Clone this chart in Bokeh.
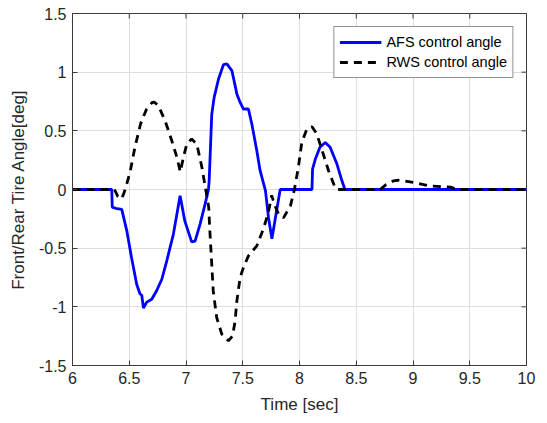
from bokeh.plotting import figure
from bokeh.models import Range1d, Legend, LegendItem, FixedTicker
from bokeh.embed import file_html
from bokeh.resources import INLINE

# ---- data ----
afs_t = [6.0, 6.346, 6.35, 6.38, 6.434, 6.478, 6.52, 6.566, 6.595, 6.61, 6.625, 6.654,
         6.698, 6.74, 6.787, 6.83, 6.889, 6.948, 6.99, 7.05, 7.08, 7.124, 7.168, 7.198,
         7.204, 7.227, 7.248, 7.286, 7.33, 7.36, 7.404, 7.433, 7.448, 7.477, 7.506, 7.55,
         7.58, 7.624, 7.653, 7.70, 7.727, 7.757, 7.8, 7.83, 8.11, 8.115, 8.14, 8.18,
         8.227, 8.27, 8.33, 8.374, 8.40, 10.0]
afs_y = [0, 0, -0.15, -0.16, -0.17, -0.35, -0.58, -0.81, -0.89, -0.90, -1.01, -0.96,
         -0.935, -0.865, -0.765, -0.61, -0.38, -0.054, -0.27, -0.446, -0.44, -0.295, -0.125, 0.0,
         0.074, 0.64, 0.785, 0.94, 1.064, 1.07, 1.013, 0.885, 0.814, 0.742, 0.686, 0.686,
         0.558, 0.33, 0.16, -0.01, -0.24, -0.42, -0.17, 0.0, 0.0, 0.174, 0.26, 0.36,
         0.40, 0.36, 0.217, 0.074, 0.0, 0.0]

rws_t = [6.0, 6.37, 6.40, 6.43, 6.45, 6.47, 6.51, 6.55, 6.6, 6.65, 6.7, 6.72, 6.757,
         6.816, 6.875, 6.92, 6.95, 6.977, 7.007, 7.05, 7.095, 7.14, 7.17, 7.2, 7.21,
         7.227, 7.24, 7.27, 7.316, 7.374, 7.41, 7.433, 7.448, 7.477, 7.506, 7.55, 7.624,
         7.68, 7.725, 7.755, 7.78, 7.82, 7.86, 7.92, 7.955, 7.99, 8.02, 8.065, 8.11,
         8.153, 8.2, 8.256, 8.315, 8.34, 8.71, 8.76, 8.83, 8.87, 9.005, 9.15, 9.33,
         9.39, 10.0]
rws_y = [0, 0, -0.06, -0.08, -0.04, 0.02, 0.16, 0.36, 0.56, 0.68, 0.74, 0.745, 0.714,
         0.586, 0.415, 0.273, 0.15, 0.273, 0.387, 0.43, 0.387, 0.19, 0.02, -0.15, -0.35,
         -0.64, -0.864, -1.09, -1.234, -1.29, -1.248, -1.12, -0.95, -0.75, -0.665, -0.566, -0.48,
         -0.34, -0.2, -0.05, -0.13, -0.22, -0.24, -0.14, 0.0, 0.19, 0.40, 0.515, 0.535,
         0.473, 0.33, 0.16, 0.013, 0.0, 0.0, 0.04, 0.074, 0.08, 0.06, 0.03, 0.02,
         0.0, 0.0]

x_ticks = [6, 6.5, 7, 7.5, 8, 8.5, 9, 9.5, 10]
x_tick_labels = ["6", "6.5", "7", "7.5", "8", "8.5", "9", "9.5", "10"]
y_ticks = [-1.5, -1, -0.5, 0, 0.5, 1, 1.5]
y_tick_labels = ["-1.5", "-1", "-0.5", "0", "0.5", "1", "1.5"]

X_MIN, X_MAX = 6, 10
Y_MIN, Y_MAX = -1.5, 1.5

FONT = "Liberation Sans"
AX = "#3a3a3a"
TXT = "#262626"

p = figure(frame_width=454, frame_height=352,
           x_range=Range1d(X_MIN, X_MAX), y_range=Range1d(Y_MIN, Y_MAX),
           output_backend="svg", toolbar_location=None,
           min_border_left=72, min_border_right=21, min_border_top=13, min_border_bottom=58)

p.background_fill_color = "white"
p.border_fill_color = "white"
p.outline_line_color = AX
p.outline_line_width = 1

for ax, ticks, labels in ((p.xaxis[0], x_ticks, x_tick_labels), (p.yaxis[0], y_ticks, y_tick_labels)):
    ax.ticker = FixedTicker(ticks=ticks)
    ax.major_label_overrides = {t: l for t, l in zip(ticks, labels)}
    ax.major_tick_in = 5
    ax.major_tick_out = 0
    ax.minor_tick_line_color = None
    ax.axis_line_color = AX
    ax.major_tick_line_color = AX
    ax.major_label_text_font = FONT
    ax.major_label_text_font_size = "16px"
    ax.major_label_text_color = TXT
    ax.major_label_standoff = 6
    ax.axis_label_text_font = FONT
    ax.axis_label_text_font_size = "17px"
    ax.axis_label_text_font_style = "normal"
    ax.axis_label_text_color = TXT
    ax.axis_label_standoff = 8

p.xaxis[0].axis_label = "Time [sec]"
p.yaxis[0].axis_label = "Front/Rear Tire Angle[deg]"

p.xgrid.ticker = FixedTicker(ticks=x_ticks)
p.ygrid.ticker = FixedTicker(ticks=y_ticks)
p.grid.grid_line_color = "#dedede"
p.grid.grid_line_width = 1

# mirrored inward ticks on top and right edges (box style), placed at the tick values
tick_len_y = 0.043  # ~5 px in y units
tick_len_x = 0.044  # ~5 px in x units
p.segment(x0=x_ticks, y0=[Y_MAX] * len(x_ticks), x1=x_ticks, y1=[Y_MAX - tick_len_y] * len(x_ticks),
          line_color=AX, line_width=1)
p.segment(x0=[X_MAX] * len(y_ticks), y0=y_ticks, x1=[X_MAX - tick_len_x] * len(y_ticks), y1=y_ticks,
          line_color=AX, line_width=1)

r_afs = p.line(afs_t, afs_y, line_color="#0000ff", line_width=2.8)
r_rws = p.line(rws_t, rws_y, line_color="black", line_width=2.8, line_dash="8 6")

legend = Legend(items=[LegendItem(label="AFS control angle", renderers=[r_afs]),
                       LegendItem(label="RWS control angle", renderers=[r_rws])],
                location="top_right")
legend.label_text_font = FONT
legend.label_text_font_size = "14.5px"
legend.label_text_color = "black"
legend.glyph_width = 42
legend.glyph_height = 20
legend.label_height = 20
legend.label_standoff = 5
legend.padding = 5
legend.spacing = 0
legend.margin = 13
legend.border_line_color = TXT
legend.border_line_width = 1
legend.background_fill_color = "white"
legend.background_fill_alpha = 1
p.add_layout(legend)

open("out.html", "w").write(file_html(p, INLINE))
